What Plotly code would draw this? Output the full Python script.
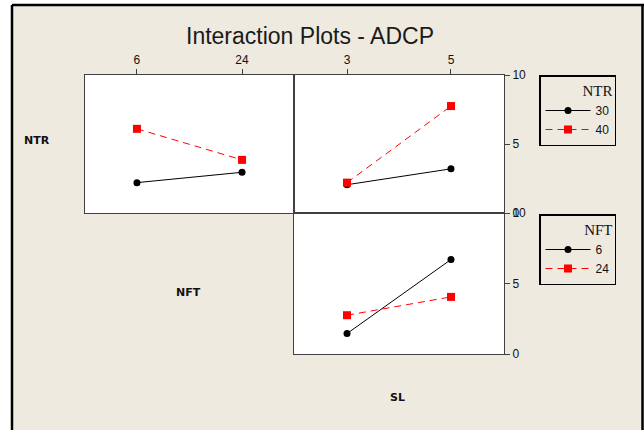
import plotly.graph_objects as go

W, H = 644, 430

# Factor levels
nft_levels = [6, 24]
sl_levels = [3, 5]
ntr_names = ["30", "40"]
nft_names = ["6", "24"]

# Mean ADCP by factor combination
adcp_ntr30_by_nft = [2.2, 2.95]
adcp_ntr40_by_nft = [6.1, 3.85]
adcp_ntr30_by_sl = [2.05, 3.2]
adcp_ntr40_by_sl = [2.2, 7.75]
adcp_nft6_by_sl = [1.45, 6.7]
adcp_nft24_by_sl = [2.75, 4.05]

y_ticks = [0, 5, 10]

BG = "#EEEAE0"
FRAME = "#404040"
TICK_FONT = dict(family="Liberation Sans, Arial, sans-serif", size=12, color="#111")
LABEL_FONT = dict(family="DejaVu Sans, Verdana, sans-serif", size=11, color="#111")


def px_x(p):
    return p / W


def px_y(p):
    return 1 - p / H


black_style = dict(mode="lines+markers", line=dict(color="black", width=1),
                   marker=dict(symbol="circle", size=7, color="black"))
red_style = dict(mode="lines+markers", line=dict(color="#ff0000", width=1, dash="7px,5px"),
                 marker=dict(symbol="square", size=8, color="#ff0000"))

fig = go.Figure()

# NTR x NFT
fig.add_trace(go.Scatter(x=nft_levels, y=adcp_ntr30_by_nft, name=ntr_names[0],
                         xaxis="x", yaxis="y", legend="legend", **black_style))
fig.add_trace(go.Scatter(x=nft_levels, y=adcp_ntr40_by_nft, name=ntr_names[1],
                         xaxis="x", yaxis="y", legend="legend", **red_style))
# NTR x SL
fig.add_trace(go.Scatter(x=sl_levels, y=adcp_ntr30_by_sl, name=ntr_names[0], showlegend=False,
                         xaxis="x2", yaxis="y2", **black_style))
fig.add_trace(go.Scatter(x=sl_levels, y=adcp_ntr40_by_sl, name=ntr_names[1], showlegend=False,
                         xaxis="x2", yaxis="y2", **red_style))
# NFT x SL
fig.add_trace(go.Scatter(x=sl_levels, y=adcp_nft6_by_sl, name=nft_names[0],
                         xaxis="x3", yaxis="y3", legend="legend2", **black_style))
fig.add_trace(go.Scatter(x=sl_levels, y=adcp_nft24_by_sl, name=nft_names[1],
                         xaxis="x3", yaxis="y3", legend="legend2", **red_style))

frame = dict(showline=True, linecolor=FRAME, linewidth=1, mirror=True,
             showgrid=False, zeroline=False, tickfont=TICK_FONT, automargin=False,
             tickcolor=FRAME, ticklen=5, tickwidth=1, fixedrange=True)

top_dom = [px_y(213), px_y(75)]
bot_dom = [px_y(354), px_y(213)]
left_dom = [px_x(85), px_x(294)]
right_dom = [px_x(294), px_x(504)]

legend_common = dict(
    xanchor="left", yanchor="top", bgcolor="rgba(0,0,0,0)",
    bordercolor="black", borderwidth=1.5, itemwidth=45,
    font=dict(family="Liberation Sans, Arial, sans-serif", size=12, color="#111"),
    tracegroupgap=0,
)
legend_title_font = dict(family="Liberation Serif, serif", size=15, color="#111")

fig.update_layout(
    template="none",
    width=W, height=H, autosize=False,
    margin=dict(l=0, r=0, t=0, b=0, pad=0, autoexpand=False),
    paper_bgcolor=BG, plot_bgcolor="white",
    xaxis=dict(domain=left_dom, anchor="y", side="top", range=[-2.9, 32.9],
               tickvals=nft_levels, ticks="outside", **frame),
    yaxis=dict(domain=top_dom, anchor="x", range=[0, 10], showticklabels=False,
               ticks="", **frame),
    xaxis2=dict(domain=right_dom, anchor="y2", side="top", range=[1.98, 6.02],
                tickvals=sl_levels, ticks="outside", **frame),
    yaxis2=dict(domain=top_dom, anchor="x2", side="right", range=[0, 10],
                tickvals=y_ticks, ticks="outside", **frame),
    xaxis3=dict(domain=right_dom, anchor="y3", range=[1.98, 6.02],
                showticklabels=False, ticks="", **frame),
    yaxis3=dict(domain=bot_dom, anchor="x3", side="right", range=[0, 10],
                tickvals=y_ticks, ticks="outside", **frame),
    legend=dict(x=px_x(539), y=px_y(75),
                title=dict(text="NTR", side="top right", font=legend_title_font),
                **legend_common),
    legend2=dict(x=px_x(539), y=px_y(214),
                 title=dict(text="NFT", side="top right", font=legend_title_font),
                 **legend_common),
    showlegend=True,
)

# Title and factor labels
fig.add_annotation(text="Interaction Plots - ADCP", xref="paper", yref="paper",
                   x=px_x(310), y=px_y(36), xanchor="center", yanchor="middle",
                   showarrow=False,
                   font=dict(family="Liberation Sans, Arial, sans-serif", size=23, color="#1a1a1a"))
for label, (lx, ly) in {"NTR": (37, 141), "NFT": (188, 292), "SL": (397, 397)}.items():
    fig.add_annotation(text=f"<b>{label}</b>", xref="paper", yref="paper",
                       x=px_x(lx), y=px_y(ly), xanchor="center", yanchor="middle",
                       showarrow=False, font=LABEL_FONT)

# White margin and black outer frame
fig.add_shape(type="rect", xref="paper", yref="paper", x0=0, x1=px_x(11), y0=0, y1=1,
              fillcolor="white", line=dict(width=0), layer="above")
fig.add_shape(type="rect", xref="paper", yref="paper", x0=0, x1=1, y0=px_y(4), y1=1,
              fillcolor="white", line=dict(width=0), layer="above")
fig.add_shape(type="line", xref="paper", yref="paper", x0=px_x(12), x1=px_x(12),
              y0=0, y1=px_y(5), line=dict(color="black", width=2.5), layer="above")
fig.add_shape(type="line", xref="paper", yref="paper", x0=px_x(12), x1=1,
              y0=px_y(5), y1=px_y(5), line=dict(color="black", width=2.5), layer="above")
fig.add_shape(type="line", xref="paper", yref="paper", x0=px_x(642.5), x1=px_x(642.5),
              y0=0, y1=px_y(5), line=dict(color="black", width=2.5), layer="above")

fig.write_html("out.html")
